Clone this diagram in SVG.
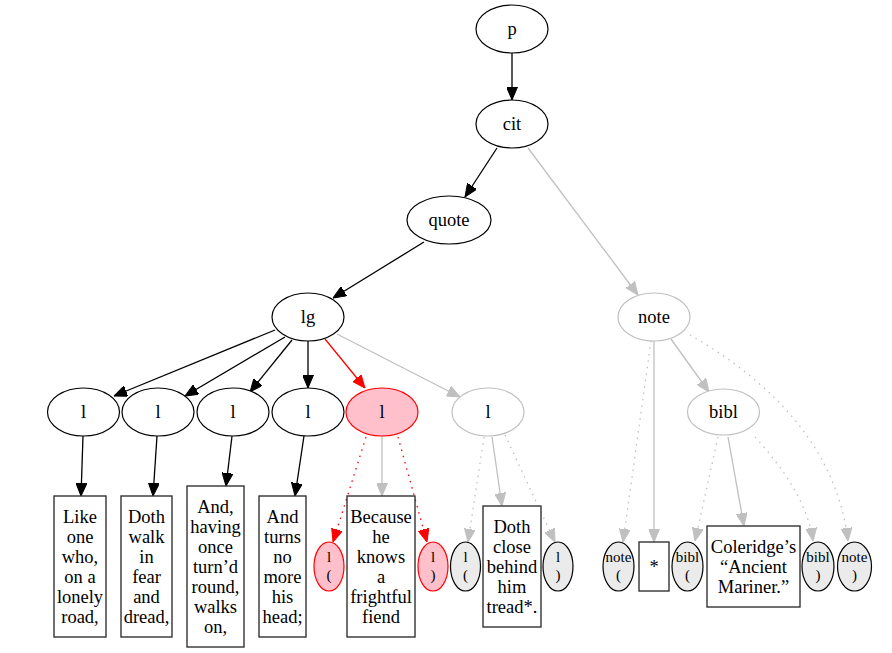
<svg xmlns="http://www.w3.org/2000/svg" width="892" height="653" viewBox="0 0 892 653">
<style>
text{font-family:"Liberation Serif","Times New Roman",serif;fill:#000;text-anchor:middle}
.t{font-size:18.5px}
.s{font-size:15px}
.n{fill:#fff;stroke:#000;stroke-width:1.2}
.g{fill:#fff;stroke:#c0c0c0;stroke-width:1.2}
.r{fill:#ffc0cb;stroke:#ff0000;stroke-width:1.2}
.sg{fill:#ebebeb;stroke:#000;stroke-width:1.2}
.b{fill:#fff;stroke:#333;stroke-width:1.4}
.e{fill:none;stroke-width:1.3}
.k{stroke:#000;marker-end:url(#ak)}
.gy{stroke:#c0c0c0;marker-end:url(#ag)}
.rd{stroke:#ff0000;marker-end:url(#ar)}
.d{stroke-dasharray:1.5,5}
</style>
<defs>
<marker id="ak" viewBox="0 0 13 11" refX="13" refY="5.5" markerWidth="13" markerHeight="11" markerUnits="userSpaceOnUse" orient="auto"><path d="M0,0L13,5.5L0,11z" fill="#000" stroke="#000" stroke-width="1"/></marker>
<marker id="ag" viewBox="0 0 13 11" refX="13" refY="5.5" markerWidth="13" markerHeight="11" markerUnits="userSpaceOnUse" orient="auto"><path d="M0,0L13,5.5L0,11z" fill="#c0c0c0" stroke="#c0c0c0" stroke-width="1"/></marker>
<marker id="ar" viewBox="0 0 13 11" refX="13" refY="5.5" markerWidth="13" markerHeight="11" markerUnits="userSpaceOnUse" orient="auto"><path d="M0,0L13,5.5L0,11z" fill="#ff0000" stroke="#ff0000" stroke-width="1"/></marker>
</defs>
<rect width="892" height="653" fill="#fff"/>
<g id="edges">
<path class="e k" d="M512,53L512,100"/>
<path class="e k" d="M497,148L465,197"/>
<path class="e gy" d="M528,148L638,295"/>
<path class="e k" d="M424,242L333,298"/>
<path class="e k" d="M275,330L114,396"/>
<path class="e k" d="M285,337L185,396"/>
<path class="e k" d="M292,340L250,392"/>
<path class="e k" d="M308,341L308,388"/>
<path class="e rd" d="M325,339L365,388"/>
<path class="e gy" d="M337,334L460,397"/>
<path class="e gy" d="M671,339L709,392"/>
<path class="e gy" d="M654,341L654,542"/>
<path class="e gy d" d="M651,341L623,542"/>
<path class="e gy d" d="M690,335C760,375 836,440 848,541"/>
<path class="e gy d" d="M718,437L695,541"/>
<path class="e gy" d="M728,437L744,526"/>
<path class="e gy d" d="M755,437C785,470 808,505 813,541"/>
<path class="e k" d="M83,436L81,496"/>
<path class="e k" d="M157,436L153,496"/>
<path class="e k" d="M232,436L226,486"/>
<path class="e k" d="M304,436L295,496"/>
<path class="e gy" d="M382,436L382,496"/>
<path class="e rd d" d="M366,437L333,542"/>
<path class="e rd d" d="M398,437L427,542"/>
<path class="e gy d" d="M484,437L468,542"/>
<path class="e gy" d="M492,437L502,506"/>
<path class="e gy d" d="M505,435L555,542"/>
</g>
<g id="n_p"><ellipse class="n" cx="512" cy="29" rx="36" ry="24"/><text class="t" x="512" y="35">p</text></g>
<g id="n_cit"><ellipse class="n" cx="512" cy="124" rx="36" ry="24"/><text class="t" x="512" y="130">cit</text></g>
<g id="n_quote"><ellipse class="n" cx="449" cy="220" rx="42" ry="24"/><text class="t" x="449" y="226">quote</text></g>
<g id="n_lg"><ellipse class="n" cx="308" cy="317" rx="36" ry="24"/><text class="t" x="308" y="323">lg</text></g>
<g id="n_note"><ellipse class="g" cx="654" cy="317" rx="36" ry="24"/><text class="t" x="654" y="323">note</text></g>
<g id="n_l1"><ellipse class="n" cx="83.5" cy="412" rx="36" ry="24"/><text class="t" x="83.5" y="418">l</text></g>
<g id="n_l2"><ellipse class="n" cx="158" cy="412" rx="36" ry="24"/><text class="t" x="158" y="418">l</text></g>
<g id="n_l3"><ellipse class="n" cx="233" cy="412" rx="36" ry="24"/><text class="t" x="233" y="418">l</text></g>
<g id="n_l4"><ellipse class="n" cx="308" cy="412" rx="36" ry="24"/><text class="t" x="308" y="418">l</text></g>
<g id="n_l5"><ellipse class="r" cx="382" cy="412" rx="36" ry="24"/><text class="t" x="382" y="418">l</text></g>
<g id="n_l6"><ellipse class="g" cx="488" cy="412" rx="36" ry="24"/><text class="t" x="488" y="418">l</text></g>
<g id="n_bibl"><ellipse class="g" cx="723.5" cy="412" rx="36" ry="23"/><text class="t" x="723.5" y="418">bibl</text></g>
<g id="n_t1"><rect class="b" x="54" y="496" width="52" height="141"/><text class="t"><tspan x="80" y="522.5">Like</tspan><tspan x="80" y="542.5">one</tspan><tspan x="80" y="562.5">who,</tspan><tspan x="80" y="582.5">on a</tspan><tspan x="80" y="602.5">lonely</tspan><tspan x="80" y="622.5">road,</tspan></text></g>
<g id="n_t2"><rect class="b" x="121" y="496" width="51" height="141"/><text class="t"><tspan x="146.5" y="522.5">Doth</tspan><tspan x="146.5" y="542.5">walk</tspan><tspan x="146.5" y="562.5">in</tspan><tspan x="146.5" y="582.5">fear</tspan><tspan x="146.5" y="602.5">and</tspan><tspan x="146.5" y="622.5">dread,</tspan></text></g>
<g id="n_t3"><rect class="b" x="187" y="486" width="57" height="161"/><text class="t"><tspan x="215.5" y="512.5">And,</tspan><tspan x="215.5" y="532.5">having</tspan><tspan x="215.5" y="552.5">once</tspan><tspan x="215.5" y="572.5">turn’d</tspan><tspan x="215.5" y="592.5">round,</tspan><tspan x="215.5" y="612.5">walks</tspan><tspan x="215.5" y="632.5">on,</tspan></text></g>
<g id="n_t4"><rect class="b" x="259" y="496" width="47" height="141"/><text class="t"><tspan x="282.5" y="522.5">And</tspan><tspan x="282.5" y="542.5">turns</tspan><tspan x="282.5" y="562.5">no</tspan><tspan x="282.5" y="582.5">more</tspan><tspan x="282.5" y="602.5">his</tspan><tspan x="282.5" y="622.5">head;</tspan></text></g>
<g id="n_lo5"><ellipse class="r" cx="329" cy="566.5" rx="15" ry="24.5"/><text class="s"><tspan x="329" y="562">l</tspan><tspan x="329" y="580">(</tspan></text></g>
<g id="n_t5"><rect class="b" x="347" y="496" width="68" height="141"/><text class="t"><tspan x="381" y="522.5">Because</tspan><tspan x="381" y="542.5">he</tspan><tspan x="381" y="562.5">knows</tspan><tspan x="381" y="582.5">a</tspan><tspan x="381" y="602.5">frightful</tspan><tspan x="381" y="622.5">fiend</tspan></text></g>
<g id="n_lc5"><ellipse class="r" cx="433" cy="566.5" rx="15" ry="24.5"/><text class="s"><tspan x="433" y="562">l</tspan><tspan x="433" y="580">)</tspan></text></g>
<g id="n_lo6"><ellipse class="sg" cx="465.5" cy="566.5" rx="15" ry="24.5"/><text class="s"><tspan x="465.5" y="562">l</tspan><tspan x="465.5" y="580">(</tspan></text></g>
<g id="n_t6"><rect class="b" x="483" y="506" width="58" height="121"/><text class="t"><tspan x="512" y="532.5">Doth</tspan><tspan x="512" y="552.5">close</tspan><tspan x="512" y="572.5">behind</tspan><tspan x="512" y="592.5">him</tspan><tspan x="512" y="612.5">tread*.</tspan></text></g>
<g id="n_lc6"><ellipse class="sg" cx="558" cy="566.5" rx="15" ry="24.5"/><text class="s"><tspan x="558" y="562">l</tspan><tspan x="558" y="580">)</tspan></text></g>
<g id="n_noteo"><ellipse class="sg" cx="618.5" cy="566.5" rx="15.5" ry="24.5"/><text class="s"><tspan x="618.5" y="562">note</tspan><tspan x="618.5" y="580">(</tspan></text></g>
<g id="n_star"><rect class="b" x="639" y="542" width="30" height="49"/><text class="t" x="654" y="572.5">*</text></g>
<g id="n_biblo"><ellipse class="sg" cx="687.5" cy="566.5" rx="15.5" ry="24.5"/><text class="s"><tspan x="687.5" y="562">bibl</tspan><tspan x="687.5" y="580">(</tspan></text></g>
<g id="n_t7"><rect class="b" x="707" y="526" width="93" height="81"/><text class="t"><tspan x="753.5" y="552.5">Coleridge’s</tspan><tspan x="753.5" y="572.5">“Ancient</tspan><tspan x="753.5" y="592.5">Mariner.”</tspan></text></g>
<g id="n_biblc"><ellipse class="sg" cx="818" cy="566.5" rx="16" ry="24.5"/><text class="s"><tspan x="818" y="562">bibl</tspan><tspan x="818" y="580">)</tspan></text></g>
<g id="n_notec"><ellipse class="sg" cx="854.5" cy="566.5" rx="17" ry="24.5"/><text class="s"><tspan x="854.5" y="562">note</tspan><tspan x="854.5" y="580">)</tspan></text></g>
</svg>
